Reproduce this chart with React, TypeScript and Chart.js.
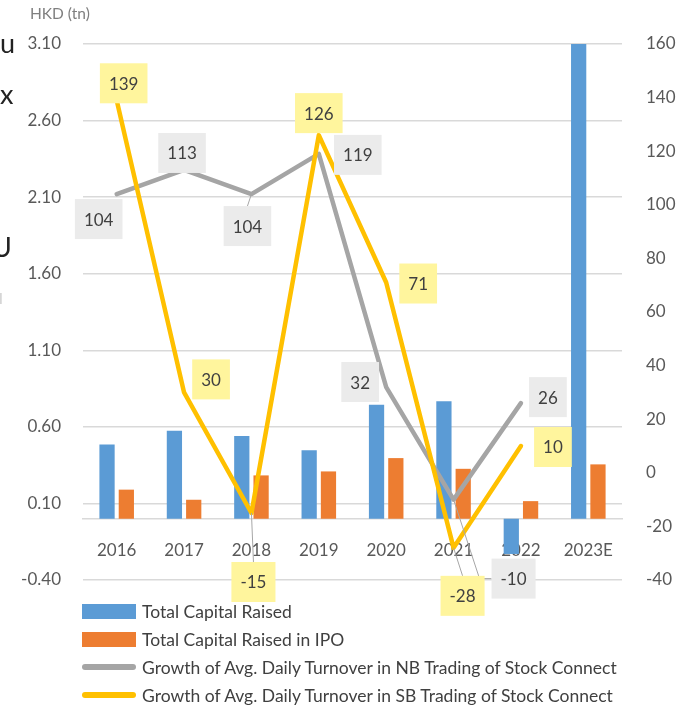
import React, { useEffect, useRef } from 'react';
import { Chart, registerables } from 'chart.js';

Chart.register(...registerables);

// ---------- data ----------
const categories = ['2016', '2017', '2018', '2019', '2020', '2021', '2022', '2023E'];
const totalCapitalRaised = [0.485, 0.575, 0.54, 0.448, 0.744, 0.768, -0.23, 3.6];
const totalCapitalRaisedIPO = [0.19, 0.124, 0.283, 0.309, 0.396, 0.326, 0.115, 0.355];
const nbTurnoverGrowth = [104, 113, 104, 119, 32, -10, 26, null];
const sbTurnoverGrowth = [139, 30, -15, 126, 71, -28, 10, null];
const leftAxisRange = [-0.4, 3.1];
const leftAxisStep = 0.5;
const rightAxisRange = [-40, 160];
const rightAxisStep = 20;
const seriesNames = [
  'Total Capital Raised',
  'Total Capital Raised in IPO',
  'Growth of Avg. Daily Turnover in NB Trading of Stock Connect',
  'Growth of Avg. Daily Turnover in SB Trading of Stock Connect',
];

// ---------- styling ----------
const FONT = 'Lato, "Noto Sans", sans-serif';
const BLUE = '#5b9bd5';
const ORANGE = '#ed7d31';
const GRAY = '#a5a5a5';
const YELLOW = '#ffc000';
const AXIS_TEXT = '#595959';
const GRID = '#d9d9d9';

// label placement (offset from point, in px) for data label boxes
const nbLabelPlacement = [
  { dx: -18, dy: 25 },
  { dx: -2, dy: -17 },
  { dx: -4, dy: 32, leader: 'down' },
  { dx: 39, dy: 1 },
  { dx: -26, dy: -5 },
  { dx: 60, dy: 79, leader: 'elbow' },
  { dx: 27, dy: -6 },
];
const sbLabelPlacement = [
  { dx: 7, dy: -17 },
  { dx: 27, dy: -13 },
  { dx: 2, dy: 69, leader: 'down' },
  { dx: 0, dy: -22 },
  { dx: 32, dy: 1 },
  { dx: 9, dy: 48, leader: 'down' },
  { dx: 32, dy: 1 },
];

const dataLabelPlugin = {
  id: 'boxLabels',
  afterDatasetsDraw(chart: any, _args: any, opts: any) {
    const ctx = chart.ctx as CanvasRenderingContext2D;
    ctx.save();
    ctx.font = `17px ${FONT}`;
    (opts.series || []).forEach((s: any) => {
      const meta = chart.getDatasetMeta(s.datasetIndex);
      const ds = chart.data.datasets[s.datasetIndex];
      meta.data.forEach((pt: any, i: number) => {
        const v = ds.data[i];
        if (v === null || v === undefined) return;
        const pl = s.placement[i];
        if (!pl) return;
        const text = String(v);
        const w = ctx.measureText(text).width + 18;
        const h = 40;
        const cx = pt.x + pl.dx;
        const cy = pt.y + pl.dy;
        const left = cx - w / 2;
        const top = cy - h / 2;
        if (pl.leader) {
          ctx.strokeStyle = '#a6a6a6';
          ctx.lineWidth = 1;
          ctx.beginPath();
          ctx.moveTo(pt.x, pt.y);
          if (pl.leader === 'elbow') {
            ctx.lineTo(left - 12, cy);
            ctx.lineTo(left, cy);
          } else {
            ctx.lineTo(cx, top);
          }
          ctx.stroke();
        }
        ctx.fillStyle = s.bg;
        ctx.fillRect(left, top, w, h);
        ctx.fillStyle = '#404040';
        ctx.textAlign = 'center';
        ctx.textBaseline = 'middle';
        ctx.fillText(text, cx, cy + 1);
      });
    });
    ctx.restore();
  },
};

export default function App() {
  const ref = useRef<HTMLCanvasElement>(null);

  useEffect(() => {
    const canvas = ref.current;
    if (!canvas) return;
    const chart = new Chart(canvas, {
      type: 'bar',
      data: {
        labels: categories,
        datasets: [
          {
            type: 'bar',
            label: seriesNames[0],
            data: totalCapitalRaised,
            backgroundColor: BLUE,
            yAxisID: 'y',
            order: 3,
            categoryPercentage: 0.573,
            barPercentage: 0.79,
          },
          {
            type: 'bar',
            label: seriesNames[1],
            data: totalCapitalRaisedIPO,
            backgroundColor: ORANGE,
            yAxisID: 'y',
            order: 3,
            categoryPercentage: 0.573,
            barPercentage: 0.79,
          },
          {
            type: 'line',
            label: seriesNames[2],
            data: nbTurnoverGrowth,
            borderColor: GRAY,
            backgroundColor: GRAY,
            borderWidth: 4.5,
            pointRadius: 0,
            tension: 0,
            borderCapStyle: 'round',
            borderJoinStyle: 'round',
            yAxisID: 'y1',
            order: 2,
          },
          {
            type: 'line',
            label: seriesNames[3],
            data: sbTurnoverGrowth,
            borderColor: YELLOW,
            backgroundColor: YELLOW,
            borderWidth: 4.5,
            pointRadius: 0,
            tension: 0,
            borderCapStyle: 'round',
            borderJoinStyle: 'round',
            yAxisID: 'y1',
            order: 1,
          },
        ] as any,
      },
      options: {
        responsive: false,
        animation: false,
        devicePixelRatio: 1,
        layout: { padding: { top: 44, bottom: 126, left: 0, right: 0 } },
        plugins: {
          legend: { display: false },
          tooltip: { enabled: false },
          boxLabels: {
            series: [
              { datasetIndex: 2, bg: '#ebebeb', placement: nbLabelPlacement },
              { datasetIndex: 3, bg: '#fff59d', placement: sbLabelPlacement },
            ],
          },
        } as any,
        scales: {
          x: {
            type: 'category',
            position: { y: 0 } as any,
            offset: true,
            grid: { display: false, drawTicks: false },
            border: { display: true, color: GRID, width: 1.5 },
            ticks: {
              color: AXIS_TEXT,
              font: { family: FONT, size: 17 },
              padding: 22,
              maxRotation: 0,
              autoSkip: false,
            },
          },
          y: {
            position: 'left',
            min: leftAxisRange[0],
            max: leftAxisRange[1],
            ticks: {
              stepSize: leftAxisStep,
              color: AXIS_TEXT,
              font: { family: FONT, size: 17 },
              padding: 22,
              callback: (v: any) => Number(v).toFixed(2),
            },
            grid: { color: GRID, lineWidth: 1.5, drawTicks: false },
            border: { display: false },
            afterFit: (s: any) => {
              s.width = 83;
            },
          },
          y1: {
            position: 'right',
            min: rightAxisRange[0],
            max: rightAxisRange[1],
            ticks: {
              stepSize: rightAxisStep,
              color: AXIS_TEXT,
              font: { family: FONT, size: 17 },
              padding: 24,
            },
            grid: { display: false, drawTicks: false },
            border: { display: false },
            afterFit: (s: any) => {
              s.width = 55;
            },
          },
        },
      },
      plugins: [dataLabelPlugin],
    });
    return () => chart.destroy();
  }, []);

  const legendRow = (i: number, swatch: React.ReactNode) => (
    <div
      key={i}
      style={{
        position: 'absolute',
        left: 82,
        top: 597 + i * 28,
        height: 28,
        display: 'flex',
        alignItems: 'center',
        whiteSpace: 'nowrap',
      }}
    >
      <div style={{ width: 56, display: 'flex', alignItems: 'center' }}>{swatch}</div>
      <span style={{ fontSize: 17.5, color: '#404040', marginLeft: 4 }}>{seriesNames[i]}</span>
    </div>
  );

  return (
    <div
      style={{
        position: 'fixed',
        left: 0,
        top: 0,
        width: 677,
        height: 706,
        background: '#fff',
        fontFamily: FONT,
        overflow: 'hidden',
      }}
    >
      <canvas
        ref={ref}
        width={677}
        height={706}
        style={{ position: 'absolute', left: 0, top: 0, width: 677, height: 706 }}
      />
      <div style={{ position: 'absolute', left: 30, top: 4, fontSize: 15.5, color: '#7f7f7f' }}>HKD (tn)</div>
      <div style={{ position: 'absolute', left: 0, top: 28, fontSize: 27, color: '#222', lineHeight: '30px' }}>u</div>
      <div style={{ position: 'absolute', left: 0, top: 79, fontSize: 27, color: '#222', lineHeight: '30px' }}>x</div>
      <div style={{ position: 'absolute', left: -8, top: 232, fontSize: 27, color: '#222', lineHeight: '30px' }}>U</div>
      <div style={{ position: 'absolute', left: -1, top: 288, fontSize: 16, color: '#cfcfcf', lineHeight: '20px' }}>l</div>
      {legendRow(0, <div style={{ width: 54, height: 15, background: BLUE }} />)}
      {legendRow(1, <div style={{ width: 54, height: 15, background: ORANGE }} />)}
      {legendRow(2, <div style={{ width: 54, height: 6, borderRadius: 3, background: GRAY }} />)}
      {legendRow(3, <div style={{ width: 54, height: 6, borderRadius: 3, background: YELLOW }} />)}
    </div>
  );
}
